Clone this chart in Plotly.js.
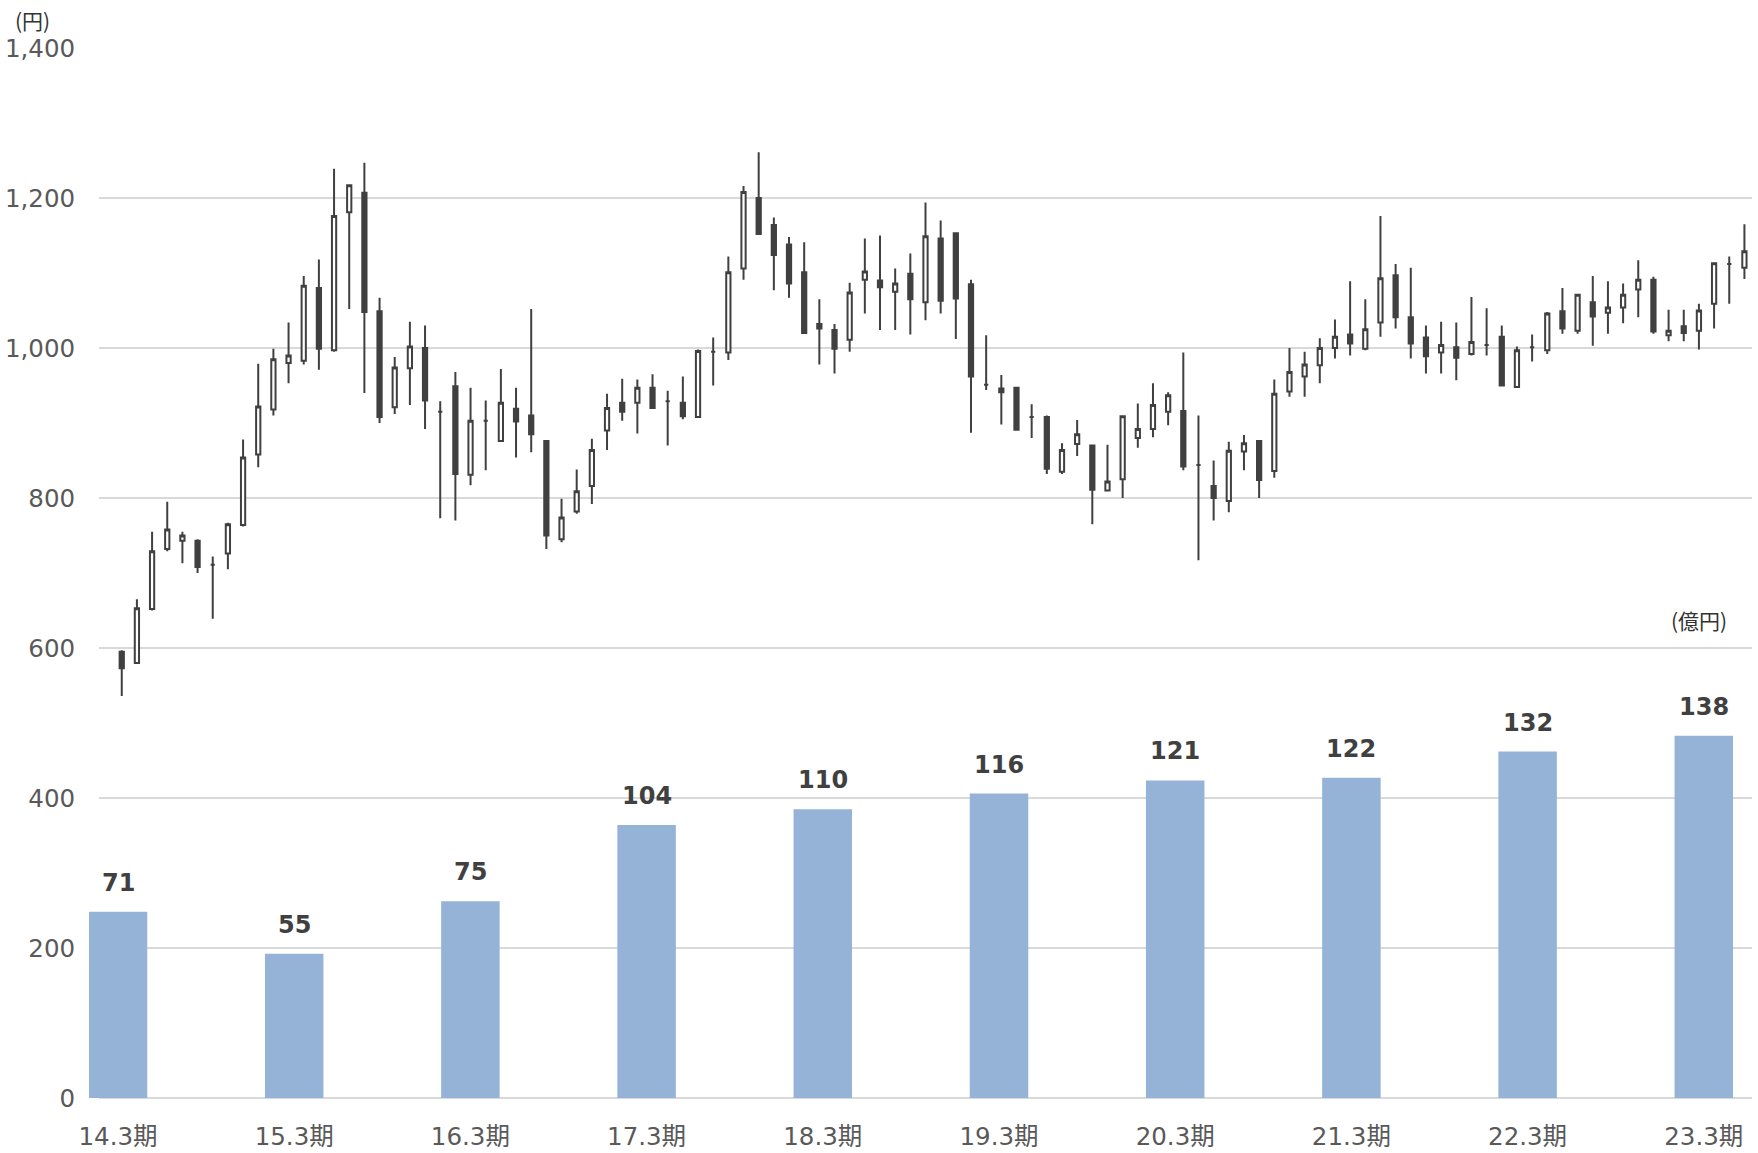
<!DOCTYPE html>
<html>
<head>
<meta charset="utf-8">
<script src="https://cdn.plot.ly/plotly-3.0.1.min.js"></script>
<style>
html,body{margin:0;padding:0;background:#fff;}
#chart{width:1758px;height:1153px;}
</style>
</head>
<body>
<div id="chart"></div>
<script>
// Monthly stock price candles (円)
const opens  = [595,580,652,732,743,743,711,726,764,858,918,980,983,1080,997,1181,1207,1049,921,973,1000,915,949,831,903,876,919,910,876,745,782,816,890,927,927,947,929,927,908,995,994,1106,1200,1164,1138,1101,1032,1024,1011,1091,1090,1075,1099,1061,1146,1153,1085,951,946,947,908,908,835,872,870,810,825,880,892,915,916,844,816,796,862,876,836,942,962,977,1000,1018,999,1034,1097,1041,1014,994,1001,992,1004,1015,948,1001,997,1049,1023,1061,1047,1054,1078,1091,1017,1029,1023,1059,1112,1107];
const highs  = [597,665,755,795,755,745,722,767,878,979,999,1034,1096,1118,1239,1217,1247,1067,988,1035,1030,929,968,947,930,972,947,1052,876,799,838,879,939,959,958,965,943,962,998,1014,1122,1216,1261,1174,1148,1141,1065,1032,1087,1146,1150,1106,1126,1194,1170,1153,1091,1017,964,947,925,910,873,904,871,871,909,926,953,941,994,910,850,875,884,876,958,1000,995,1013,1038,1089,1065,1176,1112,1107,1030,1035,1034,1068,1053,1030,1002,1018,1048,1080,1071,1096,1089,1086,1117,1095,1051,1051,1059,1113,1122,1165];
const lows   = [536,580,650,729,713,700,639,705,762,841,910,953,978,971,995,1052,940,900,912,924,892,773,770,817,837,876,854,861,732,741,779,792,864,903,886,920,870,905,908,950,984,1091,1152,1077,1067,1020,978,966,995,1046,1024,1024,1018,1037,1046,1012,887,944,898,891,880,832,832,856,765,810,800,867,881,897,837,717,770,781,837,800,827,935,935,953,986,990,997,1015,1026,986,966,966,957,990,990,950,948,982,992,1019,1019,1003,1019,1033,1041,1019,1009,1009,998,1026,1059,1092];
const closes = [573,653,729,758,750,708,711,765,854,922,985,990,1083,999,1176,1217,1048,908,974,1002,930,915,832,903,903,927,902,885,750,774,809,864,920,915,947,920,929,909,996,995,1101,1208,1152,1124,1086,1020,1026,999,1074,1102,1081,1086,1065,1149,1063,1066,962,951,941,891,908,839,864,885,811,822,909,892,924,937,842,844,800,863,873,824,939,968,978,1000,1015,1006,1025,1093,1041,1006,989,1004,987,1008,1004,950,997,1001,1046,1026,1071,1042,1054,1071,1091,1022,1023,1020,1050,1113,1112,1129];

// Fiscal-year bars (億円)
const periods = ['14.3期','15.3期','16.3期','17.3期','18.3期','19.3期','20.3期','21.3期','22.3期','23.3期'];
const profits = [71,55,75,104,110,116,121,122,132,138];

const candleX = opens.map((_, i) => i + 1);

const W = 1758, H = 1153;
const paperL = 89;            // left edge of the bar subplot (first bar sticks out)
const plotL = 99, plotR = 1752, plotT = 48, plotB = 1098;
const barStart = 118, barStep = 176.2, barPx = 58.5;
const paperW = plotR - paperL, paperH = plotB - plotT;

const candle = {
  type: 'candlestick',
  x: candleX, open: opens, high: highs, low: lows, close: closes,
  xaxis: 'x', yaxis: 'y',
  increasing: {line: {color: '#404040', width: 2}, fillcolor: '#ffffff'},
  decreasing: {line: {color: '#404040', width: 2}, fillcolor: '#404040'},
  whiskerwidth: 0,
  hoverinfo: 'skip',
  showlegend: false
};

const bars = {
  type: 'bar',
  x: periods, y: profits,
  xaxis: 'x2', yaxis: 'y2',
  width: barPx / barStep,
  marker: {color: '#95B3D7', line: {width: 0}},
  hoverinfo: 'skip',
  showlegend: false
};

const labelFont = {family: 'DejaVu Sans, Noto Sans CJK JP, sans-serif', size: 24, color: '#404040'};

const annotations = periods.map((p, i) => ({
  x: p, y: profits[i], xref: 'x2', yref: 'y2',
  text: '<b>' + profits[i] + '</b>',
  showarrow: false, xanchor: 'center', yanchor: 'bottom', yshift: 13,
  font: labelFont
}));

annotations.push({
  xref: 'paper', yref: 'paper',
  x: (32 - paperL) / paperW, y: (plotB - 20) / paperH,
  text: '(円)', showarrow: false, xanchor: 'center', yanchor: 'middle',
  font: {family: 'Noto Sans CJK JP, sans-serif', size: 21, color: '#333333'}
});
annotations.push({
  xref: 'paper', yref: 'paper',
  x: (1699 - paperL) / paperW, y: (plotB - 620) / paperH,
  text: '(億円)', showarrow: false, xanchor: 'center', yanchor: 'middle',
  font: {family: 'Noto Sans CJK JP, sans-serif', size: 21, color: '#333333'}
});

const tickFont = {family: 'DejaVu Sans, Noto Sans CJK JP, sans-serif', size: 24.5, color: '#595959'};

const layout = {
  width: W, height: H,
  margin: {l: paperL, r: W - plotR, t: plotT, b: H - plotB, pad: 0},
  paper_bgcolor: '#ffffff', plot_bgcolor: 'rgba(0,0,0,0)',
  showlegend: false,
  boxgap: 0.6,
  xaxis: {
    domain: [(plotL - paperL) / paperW, 1],
    range: [-0.5, opens.length + 0.5],
    showticklabels: false, showgrid: false, zeroline: false, showline: false,
    ticks: '', rangeslider: {visible: false}, fixedrange: true
  },
  yaxis: {
    domain: [0, 1], anchor: 'x',
    range: [0, 1400], dtick: 200, tick0: 0, tickformat: ',d',
    showgrid: true, gridcolor: '#d9d9d9', gridwidth: 1.5,
    zeroline: true, zerolinecolor: '#d9d9d9', zerolinewidth: 1.5,
    showline: false, ticks: 'outside', ticklen: 18, tickcolor: 'rgba(0,0,0,0)',
    tickfont: tickFont, fixedrange: true
  },
  xaxis2: {
    domain: [0, 1], anchor: 'y2', type: 'category',
    range: [(paperL - barStart) / barStep, (plotR - barStart) / barStep],
    showgrid: false, zeroline: false, showline: false,
    ticks: 'outside', ticklen: 17, tickcolor: 'rgba(0,0,0,0)',
    tickfont: tickFont, side: 'bottom', fixedrange: true
  },
  yaxis2: {
    domain: [0, 1], anchor: 'x2',
    range: [0, 400], visible: false, showgrid: false, zeroline: false, fixedrange: true
  },
  annotations: annotations
};

Plotly.newPlot('chart', [candle, bars], layout, {displayModeBar: false, staticPlot: true});
</script>
</body>
</html>
